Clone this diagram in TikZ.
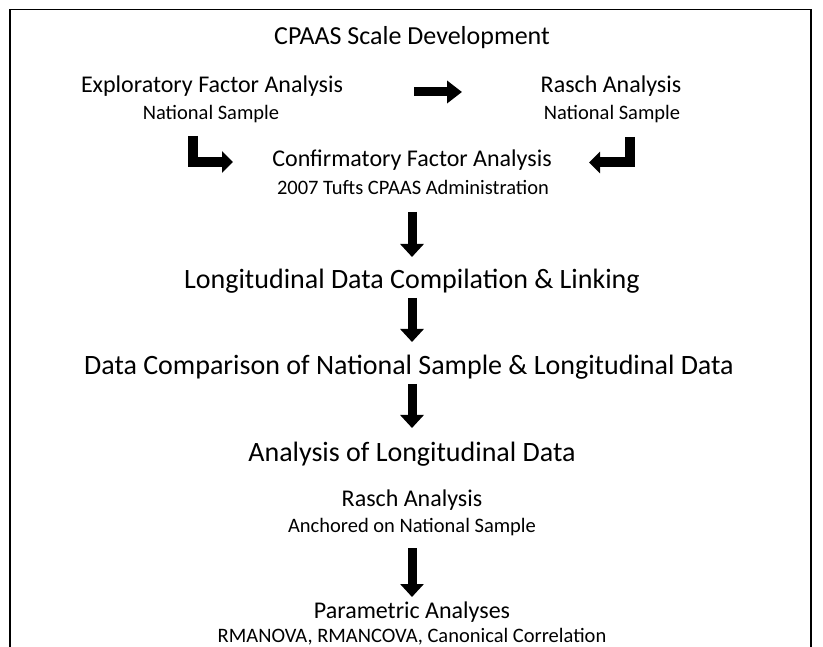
\documentclass[tikz,border=0pt]{standalone}
\usepackage{fontspec}
\setmainfont{Carlito}
\usetikzlibrary{arrows.meta}
\newcommand{\fsTitle}{\fontsize{26}{30}\selectfont}
\newcommand{\fsHead}{\fontsize{24}{28}\selectfont}
\newcommand{\fsSub}{\fontsize{20.5}{24}\selectfont}
\newcommand{\fsMain}{\fontsize{28}{32}\selectfont}
\tikzset{
  txt/.style={inner sep=0pt, anchor=center},
  blockdown/.style={line width=9pt, -{Triangle[length=13pt,width=23pt]}},
  blockside/.style={line width=9pt, -{Triangle[length=15pt,width=22pt]}},
  blockel/.style={line width=10pt, line join=miter, -{Triangle[length=11pt,width=21pt]}},
  frame/.style={line width=1.3pt}
}
\begin{document}
\begin{tikzpicture}[x=1pt,y=-1pt]
\useasboundingbox (0,0) rectangle (823,647);
\fill[white] (0,0) rectangle (823,647);
% frame
\coordinate (fbl) at (10,647);
\coordinate (ftl) at (10,9.5);
\coordinate (ftr) at (811,9.5);
\coordinate (fbr) at (811,647);
\draw[frame] (fbl) -- (ftl) -- (ftr) -- (fbr);
% texts
\node[txt] (title) at (412,38) {\fsTitle CPAAS Scale Development};
\node[txt] (efa) at (212,86) {\fsHead Exploratory Factor Analysis};
\node[txt] (efas) at (211,114) {\fsSub National Sample};
\node[txt] (ra) at (611,86) {\fsHead Rasch Analysis};
\node[txt] (ras) at (612,114) {\fsSub National Sample};
\node[txt] (cfa) at (412,160) {\fsHead Confirmatory Factor Analysis};
\node[txt] (cfas) at (413,187) {\fsSub 2007 Tufts CPAAS Administration};
\node[txt] (long) at (412,281) {\fsMain Longitudinal Data Compilation \& Linking};
\node[txt] (comp) at (409,367) {\fsMain Data Comparison of National Sample \& Longitudinal Data};
\node[txt] (anal) at (412,454) {\fsMain Analysis of Longitudinal Data};
\node[txt] (ra2) at (412,500) {\fsHead Rasch Analysis};
\node[txt] (ra2s) at (412,527) {\fsSub Anchored on National Sample};
\node[txt] (par) at (412,612) {\fsHead Parametric Analyses};
\node[txt] (pars) at (412,637) {\fsSub RMANOVA, RMANCOVA, Canonical Correlation};
% arrow end points
\coordinate (h1) at (414,92);
\coordinate (h2) at (462,92);
\coordinate (l1) at (192.5,136);
\coordinate (l2) at (233,162);
\coordinate (r1) at (630,137);
\coordinate (r2) at (589,162.5);
\coordinate (d1a) at (412,212);
\coordinate (d1b) at (412,257);
\coordinate (d2a) at (412,298);
\coordinate (d2b) at (412,342);
\coordinate (d3a) at (412,384);
\coordinate (d3b) at (412,428);
\coordinate (d4a) at (412,548);
\coordinate (d4b) at (412,597);
% arrows
\draw[blockside] (h1) -- (h2);
\draw[blockel] (l1) |- (l2);
\draw[blockel] (r1) |- (r2);
\draw[blockdown] (d1a) -- (d1b);
\draw[blockdown] (d2a) -- (d2b);
\draw[blockdown] (d3a) -- (d3b);
\draw[blockdown] (d4a) -- (d4b);
\end{tikzpicture}
\end{document}
